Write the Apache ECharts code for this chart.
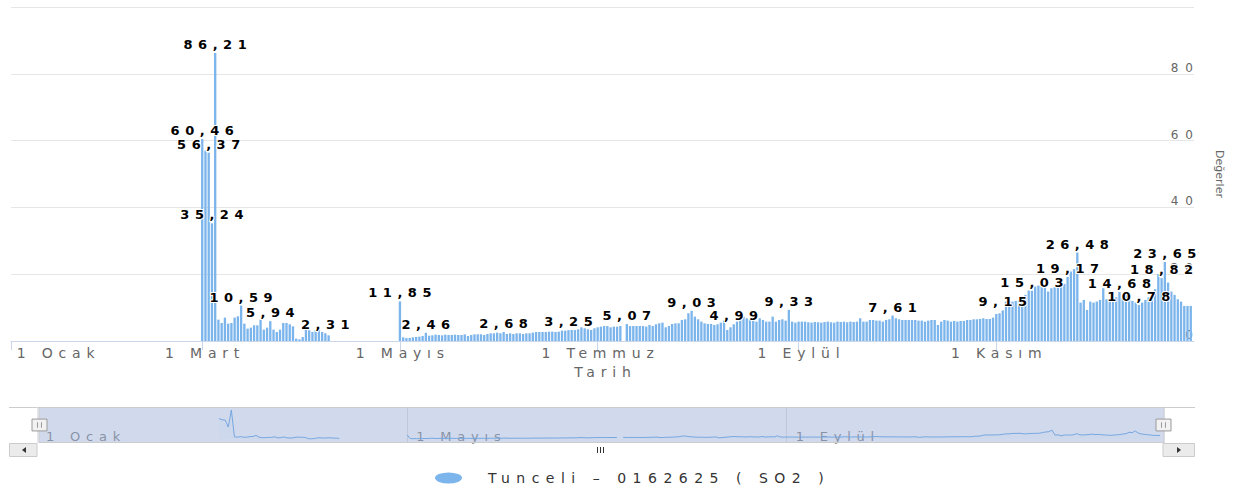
<!DOCTYPE html>
<html>
<head>
<meta charset="utf-8">
<script src="https://cdn.jsdelivr.net/npm/echarts@6/dist/echarts.min.js"></script>
<style>
html,body{margin:0;padding:0;background:#fff;}
#main{width:1260px;height:490px;}
#main text[style*="Tahoma"]{letter-spacing:5.5px;}
#main text[style*="Verdana"]{letter-spacing:5.8px;}
#main text[style*="Geneva"]{letter-spacing:6.5px;}
#main text[style*="Helvetica"]{letter-spacing:7px;}
</style>
</head>
<body>
<div id="main"></div>
<script>
// ---------- data ----------
const seriesName = 'Tunceli – 0162625 ( SO2 )';
const xTitle = 'Tarih';
const yTitle = 'Değerler';
const axisStart = '2019-01-01';
const axisEnd = '2020-01-01';
const startDate = '2019-03-01';   // first value below belongs to this day, one value per day
const values = [
  // Mar 1 - Apr 9
  60.46, 57.0, 56.37, 35.24, 86.21,
  6.4, 5.4, 7.0, 5.2, 5.4, 7.0, 7.4, 10.59, 5.2, 3.7,
  4.0, 4.7, 4.7, 6.4, 3.4, 4.0, 5.94, 3.4, 2.7, 3.4,
  5.4, 5.4, 5.0, 4.4, 0.7, 0.5, 1.2, 3.4, 3.2, 2.7,
  3.2, 3.4, 2.7, 2.31, 1.7,
  // Apr 10 - Apr 30 (no data)
  null, null, null, null, null, null, null, null, null, null, null,
  null, null, null, null, null, null, null, null, null, null,
  // May 1 - Jul 8
  11.85, 1.1, 0.9, 0.9, 1.1, 1.2, 1.3, 1.5, 2.46,
  1.6, 1.7, 1.9, 1.8, 1.7, 1.9, 1.8, 1.8, 1.9, 1.8, 1.8, 2.0, 1.5, 1.8, 2.0, 2.0, 2.0, 1.8, 2.1, 2.3, 2.3, 2.5, 2.3,
  2.68,
  2.1, 2.3, 2.1, 2.3, 2.3, 2.1, 2.3, 2.3, 2.5, 2.7, 2.7, 2.7, 2.7, 2.8, 2.8, 2.7, 2.8, 3.1, 3.1,
  3.25,
  3.3, 3.3, 3.5, 4.1, 3.8, 3.5, 3.3, 3.8, 4.1, 4.3, 4.5, 4.5, 4.1, 4.3, 4.3, 4.5,
  // Jul 9 (no data)
  null,
  // Jul 10 - Dec 31
  5.07,
  4.5, 4.5, 4.5, 4.5, 4.5, 4.3, 4.8, 4.5, 5.0, 5.3, 5.5, 4.1, 4.5, 5.1, 5.3, 5.3, 6.3, 6.5, 8.3,
  9.03,
  7.3, 6.5, 5.8, 5.3, 5.1, 5.1, 4.8, 5.0, 5.5, 6.1, 3.3, 4.1,
  4.99,
  5.8, 6.8, 7.3, 6.8, 6.5, 6.3, 5.8, 6.8, 6.3, 5.8, 5.8, 7.3, 5.8, 6.3, 6.5, 6.1,
  9.33,
  5.8, 5.5, 5.8, 5.8, 5.8, 5.6, 5.5, 5.7, 5.6, 5.5, 5.7, 5.8, 5.6, 5.5, 5.8, 5.7, 5.8, 5.6, 5.8, 5.7,
  5.8, 6.8, 5.8, 5.8, 6.3, 6.3, 6.1, 6.1, 5.8, 6.3, 6.5,
  7.61,
  6.8, 6.5, 6.3, 6.3, 6.3, 6.3, 6.3, 6.1, 6.1, 5.8, 6.1, 6.3, 6.3, 4.8, 5.8, 6.3, 6.1, 5.8, 6.0, 5.8,
  6.0, 6.0, 6.3, 6.3, 6.5, 6.5, 6.6, 6.8, 6.6, 6.6, 7.0, 8.1, 8.3,
  9.15,
  11.8, 12.1, 11.8, 12.0, 12.1, 12.5, 13.8, 15.1,
  15.03,
  16.3, 16.6, 16.6, 16.8, 14.8, 15.8, 16.1, 16.5, 16.8, 17.1,
  19.17, 20.8, 21.5, 26.48,
  11.5, 12.3, 9.3, 11.8, 11.5, 11.8, 12.3, 15.8, 12.5, 11.8, 12.5, 13.1,
  14.68,
  12.8, 13.8, 12.5, 12.0, 11.5,
  10.78,
  11.5, 12.3, 13.1, 14.8, 15.5,
  20.0, 18.82, 23.65,
  17.5, 14.8, 13.8, 12.5, 11.8, 10.5, 10.5, 10.5
];
const labeledDates = [
  '2019-03-01', '2019-03-03', '2019-03-04', '2019-03-05', '2019-03-13', '2019-03-22', '2019-04-08',
  '2019-05-01', '2019-05-09', '2019-06-02', '2019-06-22', '2019-07-10', '2019-07-30', '2019-08-12',
  '2019-08-29', '2019-09-30', '2019-11-03', '2019-11-12', '2019-11-23', '2019-11-26', '2019-12-09',
  '2019-12-15', '2019-12-22', '2019-12-23'
];
const tickDates = ['2019-01-01', '2019-03-01', '2019-05-01', '2019-07-01', '2019-09-01', '2019-11-01'];
const tickLabels = ['1 Ocak', '1 Mart', '1 Mayıs', '1 Temmuz', '1 Eylül', '1 Kasım'];
const navTickDates = ['2019-01-01', '2019-05-01', '2019-09-01'];
const navTickLabels = ['1 Ocak', '1 Mayıs', '1 Eylül'];
const yMin = 0, yMax = 100, yStep = 20;

// ---------- build ----------
const DAY = 86400000;
const toTs = s => { const p = s.split('-'); return Date.UTC(+p[0], +p[1] - 1, +p[2]); };
const t0 = toTs(startDate);
const labeledTs = labeledDates.map(toTs);
const tickTs = tickDates.map(toTs);
const navTickTs = navTickDates.map(toTs);
const fmt = v => v.toFixed(2).replace('.', ',');
const lookup = (arr, labels) => v => {
  for (let i = 0; i < arr.length; i++) if (Math.abs(arr[i] - v) < 1000) return labels[i];
  return '';
};

const barData = values.map((v, i) => {
  const t = t0 + i * DAY;
  if (v !== null && labeledTs.includes(t)) return { value: [t, v], label: { show: true } };
  return [t, v];
});
const navData = values.map((v, i) => [t0 + i * DAY, v]);

const chart = echarts.init(document.getElementById('main'), null, { renderer: 'svg' });
const rifle = 'image://data:image/svg+xml;charset=utf-8,' + encodeURIComponent(
  "<svg xmlns='http://www.w3.org/2000/svg' width='12' height='12'><path d='M3.5 3V9M6 3V9M8.5 3V9' stroke='#333' stroke-width='1.2' fill='none'/></svg>"
);
// scrollbar grip (three short strokes) centred on the scrollbar thumb
const grip = [597, 600, 603].map(x => ({
  type: 'line', silent: true, z: 100,
  shape: { x1: x + 0.5, y1: 447, x2: x + 0.5, y2: 453 },
  style: { stroke: '#333', lineWidth: 1 }
}));

chart.setOption({
  animation: false,
  backgroundColor: '#fff',
  grid: [
    { left: 11, right: 66, top: 7, bottom: 149, containLabel: false, outerBoundsMode: 'none' },
    { left: 37, right: 97, top: 407, height: 36, containLabel: false, outerBoundsMode: 'none' }
  ],
  xAxis: [
    {
      type: 'value', gridIndex: 0, min: toTs(axisStart), max: toTs(axisEnd), scale: true,
      axisLine: { show: true, lineStyle: { color: '#ccd6eb', width: 1 } },
      axisTick: { show: true, length: 9, customValues: tickTs, lineStyle: { color: '#ccd6eb' } },
      splitLine: { show: false },
      axisLabel: {
        customValues: tickTs, formatter: lookup(tickTs, tickLabels),
        color: '#666', fontSize: 14, fontFamily: 'DejaVu Sans, Verdana',
        margin: 5, padding: [0, 0, 0, 5.8], alignMinLabel: 'left', hideOverlap: false
      },
      name: xTitle, nameLocation: 'middle', nameGap: 23,
      nameTextStyle: { color: '#666', fontSize: 14, fontFamily: 'DejaVu Sans, Verdana', padding: [0, 0, 0, 5.8] }
    },
    {
      type: 'value', gridIndex: 1, min: toTs(axisStart), max: toTs(axisEnd), scale: true,
      axisLine: { show: false },
      axisTick: { show: false, customValues: navTickTs },
      splitLine: { show: true, lineStyle: { color: '#e6e6e6', width: 1 } },
      axisLabel: {
        customValues: navTickTs, formatter: lookup(navTickTs, navTickLabels),
        inside: true, align: 'left', margin: 0, padding: [0, 0, 0, 9],
        color: '#999', fontSize: 13, fontFamily: 'DejaVu Sans, Verdana'
      }
    }
  ],
  yAxis: [
    {
      type: 'value', gridIndex: 0, position: 'right', min: yMin, max: yMax, interval: yStep,
      axisLine: { show: false }, axisTick: { show: false },
      splitLine: { show: true, lineStyle: { color: '#e6e6e6', width: 1 } },
      axisLabel: {
        align: 'right', verticalAlign: 'bottom', margin: 6,
        color: '#666', fontSize: 12, fontFamily: 'DejaVu Sans, Helvetica',
        formatter: v => (v === yMax ? '' : String(v))
      },
      name: yTitle, nameLocation: 'middle', nameRotate: -90, nameGap: 20,
      nameTextStyle: { color: '#666', fontSize: 11, fontFamily: 'DejaVu Sans, Arial' }
    },
    { type: 'value', gridIndex: 1, min: -12, max: 95, show: false }
  ],
  legend: {
    data: [{ name: seriesName, icon: 'path://M0,5.5A13.5,5.5 0 1 1 27,5.5A13.5,5.5 0 1 1 0,5.5Z' }],
    left: 435, top: 471, padding: 0, itemWidth: 27, itemHeight: 11, symbolKeepAspect: false,
    selectedMode: false,
    textStyle: { color: '#333', fontSize: 14, fontFamily: 'DejaVu Sans, Geneva', padding: [0, 0, 0, 21] }
  },
  dataZoom: [{
    type: 'slider', xAxisIndex: [0, 1], filterMode: 'none', start: 0, end: 100,
    left: 37, right: 97, top: 407, height: 36,
    backgroundColor: 'rgba(0,0,0,0)', borderColor: '#cccccc',
    fillerColor: 'rgba(102,133,194,0.3)',
    showDataShadow: false, showDetail: false, brushSelect: false, zoomLock: true,
    handleIcon: 'path://M0,0H19V15H0Z M7,4V11 M12,4V11', handleSize: 15,
    handleStyle: { color: '#f2f2f2', borderColor: '#999999', borderWidth: 1 },
    moveHandleSize: 14, moveHandleIcon: rifle,
    moveHandleStyle: { color: '#cccccc', opacity: 1 },
    emphasis: {
      handleStyle: { color: '#f2f2f2', borderColor: '#999999', borderWidth: 1 },
      moveHandleStyle: { color: '#cccccc', opacity: 1 }
    }
  }],
  graphic: [
    { type: 'line', silent: true, shape: { x1: 9, y1: 407.5, x2: 1195, y2: 407.5 }, style: { stroke: '#cccccc', lineWidth: 1 } },
    { type: 'rect', silent: true, shape: { x: 9.5, y: 443.5, width: 27.5, height: 13 }, style: { fill: '#ebebeb', stroke: '#cccccc', lineWidth: 1 } },
    { type: 'polygon', silent: true, shape: { points: [[26, 447], [26, 453], [22, 450]] }, style: { fill: '#333' } },
    { type: 'rect', silent: true, shape: { x: 1163, y: 443.5, width: 31.5, height: 13 }, style: { fill: '#ebebeb', stroke: '#cccccc', lineWidth: 1 } },
    { type: 'polygon', silent: true, shape: { points: [[1177, 447], [1177, 453], [1181, 450]] }, style: { fill: '#333' } }
  ].concat(grip),
  series: [
    {
      type: 'bar', name: seriesName, xAxisIndex: 0, yAxisIndex: 0,
      data: barData, barWidth: '72%',
      itemStyle: { color: '#7cb5ec' },
      label: {
        show: false, position: 'top', distance: 2, offset: [2.7, 0],
        color: '#000', fontSize: 13, fontWeight: 'bold', fontFamily: 'DejaVu Sans, Tahoma',
        textBorderColor: '#fff', textBorderWidth: 2,
        formatter: p => fmt(p.value[1])
      }
    },
    {
      type: 'line', name: 'navigator', xAxisIndex: 1, yAxisIndex: 1,
      data: navData, symbol: 'none', showSymbol: false, connectNulls: false, silent: true,
      lineStyle: { color: '#7cb5ec', width: 1 },
      areaStyle: { color: 'rgba(124,181,236,0.05)' }
    }
  ]
});
</script>
</body>
</html>
